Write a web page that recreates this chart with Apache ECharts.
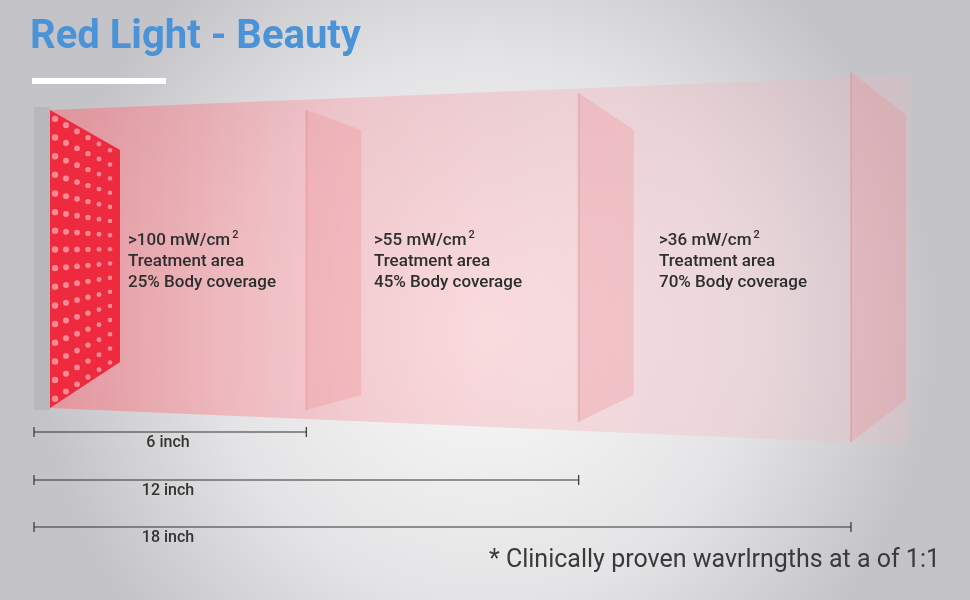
<!DOCTYPE html>
<html><head><meta charset="utf-8">
<script src="https://cdn.jsdelivr.net/npm/echarts@6/dist/echarts.min.js"></script>
<style>html,body{margin:0;padding:0}#c{width:970px;height:600px}</style></head>
<body><div id="c"></div>
<script>
const distances = [6, 12, 18];
const distanceLabels = ['6 inch', '12 inch', '18 inch'];
const irradiance = ['>100', '>55', '>36'];
const coverage = ['25%', '45%', '70%'];
const title = 'Red Light - Beauty';
const footnote = '* Clinically proven wavrlrngths at a of 1:1';

const chart = echarts.init(document.getElementById('c'));
const font = 'Roboto, "Noto Sans", sans-serif';

function panel(){
  const els = [
    {type:'polygon', shape:{points:[[50,110],[910,75],[910,445],[50,408]]},
      style:{fill:new echarts.graphic.LinearGradient(0,0,1,0,[{offset:0,color:'rgba(250,110,120,0.55)'},{offset:0.35,color:'rgba(250,140,150,0.35)'},{offset:1,color:'rgba(250,180,190,0.18)'}])}},
    {type:'rect', shape:{x:34,y:107,width:16,height:303}, style:{fill:'#b8b8bb'}},
    {type:'polygon', shape:{points:[[50,110],[120,150],[120,362],[50,408]]}, style:{fill:'#ee2a3f'}}
  ];
  for(let i=0;i<16;i++){for(let j=0;j<6;j++){
    const x=55+j*11; const t=(x-50)/70; const top=110+40*t, bot=408-46*t;
    const y=top+6+i*(bot-top-12)/15;
    els.push({type:'circle',shape:{cx:x,cy:y,r:3.3-1.2*t},style:{fill:'#ff8a96'}});
  }}
  return els;
}

chart.setOption({
  backgroundColor:{type:'radial',x:0.5,y:0.55,r:0.75,colorStops:[{offset:0,color:'#fafafa'},{offset:0.6,color:'#e4e4e6'},{offset:1,color:'#c4c4c8'}]},
  grid:{left:34,right:119,top:0,bottom:0},
  xAxis:{type:'value',min:0,max:18,show:false},
  yAxis:{type:'value',min:0,max:1,show:false},
  graphic:[
    {type:'group',children:panel(),z:1},
    {type:'text',left:30,top:18,style:{text:title,font:'bold 40px '+font,fill:'#4b93d8'}},
    {type:'rect',shape:{x:32,y:78,width:134,height:6},style:{fill:'#ffffff'}},
    {type:'text',right:30,top:548,style:{text:footnote,font:'25px '+font,fill:'#3a3a3a'}}
  ],
  series:[{
    type:'custom', z:5,
    data: distances.map((d,i)=>[d,i]),
    renderItem(params, api){
      const i = api.value(1);
      const x0 = api.coord([0,0])[0];
      const x = api.coord([api.value(0),0])[0];
      const h = [[110,410,130,395],[93,422,130,395],[72,442,115,400]][i];
      const dy = [432,480,527][i];
      const tx = [128,374,659][i];
      return {type:'group',children:[
        {type:'polygon',shape:{points:[[x,h[0]],[x+55,h[2]],[x+55,h[3]],[x,h[1]]]},style:{fill:'rgba(240,140,150,0.3)'}},
        {type:'line',shape:{x1:x,y1:h[0],x2:x,y2:h[1]},style:{stroke:'rgba(230,120,130,0.3)',lineWidth:2}},
        {type:'line',shape:{x1:x0,y1:dy,x2:x,y2:dy},style:{stroke:'#333',lineWidth:1.2}},
        {type:'line',shape:{x1:x0,y1:dy-5,x2:x0,y2:dy+5},style:{stroke:'#333',lineWidth:1.2}},
        {type:'line',shape:{x1:x,y1:dy-5,x2:x,y2:dy+5},style:{stroke:'#333',lineWidth:1.2}},
        {type:'text',x:168,y:dy+3,style:{text:distanceLabels[i],font:'500 16px '+font,fill:'#333',align:'center'}},
        {type:'text',x:tx,y:230,style:{text:'{a|'+irradiance[i]+' mW/cm}{s|2}\n{a|Treatment area}\n{a|'+coverage[i]+' Body coverage}',
          rich:{a:{font:'500 17px '+font,fill:'#2e2e2e',lineHeight:21},s:{font:'500 11px '+font,fill:'#2e2e2e',verticalAlign:'top',padding:[0,0,8,2]}}}}
      ]};
    }
  }]
});
</script></body></html>
